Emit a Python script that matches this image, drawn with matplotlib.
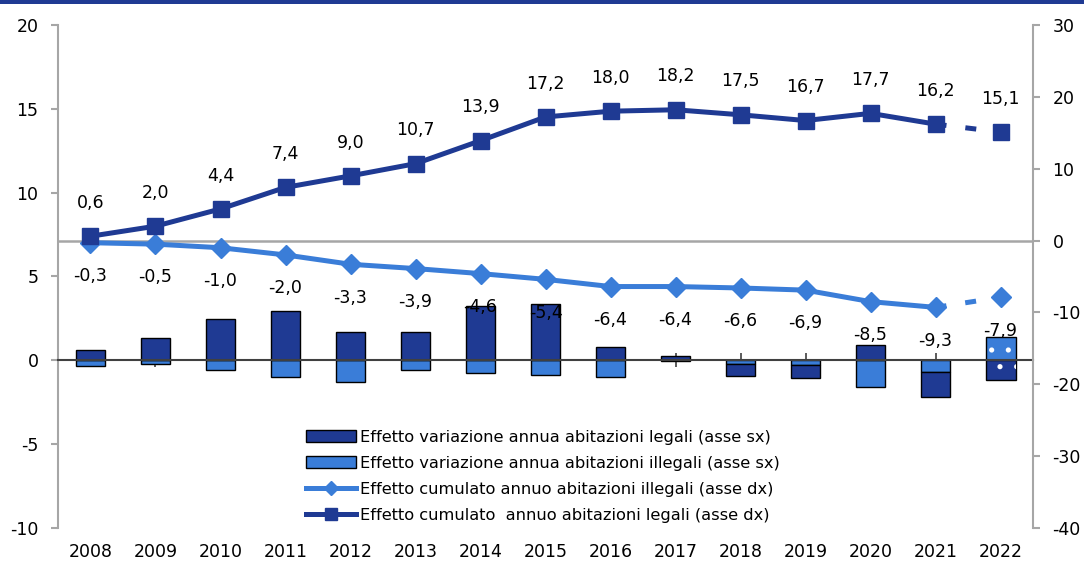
import matplotlib
matplotlib.use("Agg")
import matplotlib.pyplot as plt
from matplotlib.patches import Patch, Rectangle
from matplotlib.lines import Line2D
from matplotlib.ticker import FixedLocator

# Years on the category axis
years = ['2008', '2009', '2010', '2011', '2012', '2013', '2014', '2015',
         '2016', '2017', '2018', '2019', '2020', '2021', '2022']

# Annual change effects (left axis)
legal_change = [0.64, 1.33, 2.44, 2.96, 1.69, 1.68, 3.26, 3.35,
                0.78, 0.26, -0.71, -0.77, 0.93, -1.47, -1.15]
illegal_change = [-0.32, -0.20, -0.56, -0.99, -1.29, -0.58, -0.73, -0.85,
                  -1.01, -0.03, -0.24, -0.30, -1.62, -0.71, 1.39]

# Cumulative effects (right axis)
legal_cum = [0.6, 2.0, 4.4, 7.4, 9.0, 10.7, 13.9, 17.2,
             18.0, 18.2, 17.5, 16.7, 17.7, 16.2, 15.1]
illegal_cum = [-0.3, -0.5, -1.0, -2.0, -3.3, -3.9, -4.6, -5.4,
               -6.4, -6.4, -6.6, -6.9, -8.5, -9.3, -7.9]

DARK = '#1f3a93'
LIGHT = '#3a7dd8'
GRAY = '#a6a6a6'

plt.rcParams['font.family'] = ['DejaVu Sans']
plt.rcParams['axes.unicode_minus'] = False
plt.rcParams['hatch.linewidth'] = 1.3


def fmt(v):
    return f'{v:.1f}'.replace('.', ',')


fig = plt.figure(figsize=(10.84, 5.65), dpi=100)
ax = fig.add_axes([0.0535, 0.0655, 0.8995, 0.8903])
ax2 = ax.twinx()

x = list(range(len(years)))

# Stacked bars: illegal nearest zero, legal stacked on it when same sign
legal_bottom = [i if (i < 0) == (l < 0) else 0 for l, i in zip(legal_change, illegal_change)]
hatch = [''] * (len(years) - 1) + ['.']
for xi, li, ii, lb, h in zip(x, legal_change, illegal_change, legal_bottom, hatch):
    ax.bar(xi, ii, width=0.46, color=LIGHT, edgecolor='black', linewidth=1, zorder=2)
    ax.bar(xi, li, bottom=lb, width=0.46, color=DARK, edgecolor='black', linewidth=1, zorder=2)
    if h:
        # estimated values shown with white dots
        ax.bar(xi, ii, width=0.46, color='none', edgecolor='white', hatch=h, linewidth=0, zorder=3)
        ax.bar(xi, li, bottom=lb, width=0.46, color='none', edgecolor='white', hatch=h, linewidth=0, zorder=3)

ax.set_xlim(-0.5, len(years) - 0.5)
ax.set_ylim(-10, 20)
ax.set_yticks(range(-10, 21, 5))
ax2.set_ylim(-40, 30)
ax2.set_yticks(range(-40, 31, 10))

# category axis crossing at zero of the left scale
for s in ['top', 'right']:
    ax.spines[s].set_visible(False)
ax.spines['bottom'].set_position(('data', 0))
ax.spines['bottom'].set_color('#404040')
ax.spines['bottom'].set_linewidth(1.5)
ax.spines['bottom'].set_zorder(4)
ax.spines['left'].set_color(GRAY)
ax.spines['left'].set_linewidth(1.5)
ax.set_xticks(x)
ax.set_xticklabels(years)
ax.xaxis.set_minor_locator(FixedLocator([len(years) - 0.5]))
ax.tick_params(axis='x', which='both', direction='inout', length=10, width=1.2,
               color='#404040', labelbottom=False)
ax.tick_params(axis='y', direction='out', length=5, width=1.5, color=GRAY,
               pad=9, labelsize=12.5)

for s in ['top', 'left', 'bottom']:
    ax2.spines[s].set_visible(False)
ax2.spines['right'].set_color(GRAY)
ax2.spines['right'].set_linewidth(1.5)
ax2.tick_params(axis='y', direction='out', length=5, width=1.5, color=GRAY,
                pad=9, labelsize=12.5)
ax2.xaxis.set_visible(True)
ax2.tick_params(axis='x', which='both', length=0, pad=11, labelsize=12.5,
                labelbottom=True)

ax2.axhline(0, color=GRAY, lw=1.8, zorder=1)

# cumulative lines, last segment dashed
for vals, col, mk, ms in [(illegal_cum, LIGHT, 'D', 10), (legal_cum, DARK, 's', 12)]:
    ax2.plot(x[:-1], vals[:-1], color=col, lw=3.6, zorder=3)
    ax2.plot(x[-2:], vals[-2:], color=col, lw=3.6, dashes=(2.2, 3.8), zorder=3)
    ax2.plot(x, vals, ls='none', marker=mk, ms=ms, color=col, zorder=4)

for xi, v in zip(x, legal_cum):
    ax2.annotate(fmt(v), (xi, v), xytext=(0, 24), textcoords='offset points',
                 ha='center', va='center', fontsize=12.5, zorder=5)
for xi, v in zip(x, illegal_cum):
    ax2.annotate(fmt(v), (xi, v), xytext=(0, -24), textcoords='offset points',
                 ha='center', va='center', fontsize=12.5, zorder=5)

handles = [
    Patch(facecolor=DARK, edgecolor='black', linewidth=1),
    Patch(facecolor=LIGHT, edgecolor='black', linewidth=1),
    Line2D([], [], color=LIGHT, lw=3.6, marker='D', ms=7),
    Line2D([], [], color=DARK, lw=3.6, marker='s', ms=8),
]
labels = [
    'Effetto variazione annua abitazioni legali (asse sx)',
    'Effetto variazione annua abitazioni illegali (asse sx)',
    'Effetto cumulato annuo abitazioni illegali (asse dx)',
    'Effetto cumulato  annuo abitazioni legali (asse dx)',
]
leg = ax2.legend(handles, labels, loc='center', bbox_to_anchor=(0.497, 0.103),
                 frameon=False, fontsize=11.7, handlelength=3.1, handleheight=0.75,
                 handletextpad=0.2, labelspacing=0.68, borderpad=0)
leg.set_zorder(10)

# navy band across the top edge
fig.add_artist(Rectangle((0, 1 - 4 / 565), 1, 4 / 565, transform=fig.transFigure,
                         color=DARK, lw=0))

fig.savefig('out.png', dpi=100)
